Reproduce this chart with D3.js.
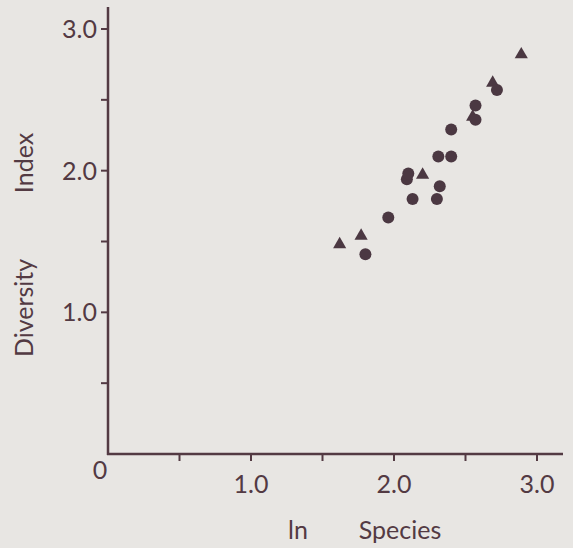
<!DOCTYPE html>
<html>
<head>
<meta charset="utf-8">
<script src="https://cdn.jsdelivr.net/npm/d3@7"></script>
<style>
  html, body { margin: 0; padding: 0; background: #e8e6e3; }
  svg { display: block; }
</style>
</head>
<body>
<div id="chart"></div>
<script>
// ln species (x) vs diversity index (y); two groups of samples
const triangleX = [1.62, 1.77, 2.20, 2.55, 2.69, 2.89];
const triangleY = [1.48, 1.54, 1.97, 2.38, 2.62, 2.82];
const circleX = [1.80, 1.96, 2.13, 2.30, 2.32, 2.09, 2.10, 2.31, 2.40, 2.40, 2.57, 2.57, 2.72];
const circleY = [1.41, 1.67, 1.80, 1.80, 1.89, 1.94, 1.98, 2.10, 2.10, 2.29, 2.36, 2.46, 2.57];

const xTicks = [1, 2, 3];
const xMinorTicks = [0.5, 1.5, 2.5];
const yTicks = [1, 2, 3];
const yMinorTicks = [0.5, 1.5, 2.5];

const width = 573, height = 548;
const ink = "#533a43";
const markColor = "#4b3842";
const font = "Lato, 'Noto Sans', sans-serif";

const x = d3.scaleLinear().domain([0, 3]).range([108, 537]);
const y = d3.scaleLinear().domain([0, 3]).range([454, 29]);

const svg = d3.select("#chart").append("svg")
    .attr("width", width)
    .attr("height", height)
    .style("font-family", font);

svg.append("rect")
    .attr("width", width)
    .attr("height", height)
    .attr("fill", "#e8e6e3");

// axes, drawn by hand so the lines run past the last tick like the original
const axes = svg.append("g")
    .attr("stroke", ink)
    .attr("stroke-width", 2.5)
    .attr("fill", "none");

axes.append("line")
    .attr("x1", x(0)).attr("x2", x(0))
    .attr("y1", 7).attr("y2", y(0) + 1);

axes.append("line")
    .attr("x1", x(0) - 1).attr("x2", 563)
    .attr("y1", y(0)).attr("y2", y(0));

axes.selectAll(".ytick")
    .data(yTicks.concat(yMinorTicks))
    .join("line")
    .attr("stroke-width", 2)
    .attr("x1", x(0) - 7).attr("x2", x(0))
    .attr("y1", d => y(d)).attr("y2", d => y(d));

axes.selectAll(".xtick")
    .data(xTicks.concat(xMinorTicks))
    .join("line")
    .attr("stroke-width", 2)
    .attr("x1", d => x(d)).attr("x2", d => x(d))
    .attr("y1", y(0)).attr("y2", y(0) + 7);

const labels = svg.append("g")
    .attr("fill", ink)
    .attr("font-size", 25);

labels.selectAll(".ylab")
    .data(yTicks)
    .join("text")
    .attr("x", x(0) - 11)
    .attr("y", d => y(d))
    .attr("dy", "0.36em")
    .attr("text-anchor", "end")
    .text(d => d3.format(".1f")(d));

labels.selectAll(".xlab")
    .data(xTicks)
    .join("text")
    .attr("x", d => x(d))
    .attr("y", 493)
    .attr("text-anchor", "middle")
    .text(d => d3.format(".1f")(d));

labels.append("text")
    .attr("x", 100)
    .attr("y", 479)
    .attr("text-anchor", "middle")
    .text("0");

// axis titles
labels.append("text")
    .attr("x", 298)
    .attr("y", 539)
    .attr("text-anchor", "middle")
    .text("ln");

labels.append("text")
    .attr("x", 400)
    .attr("y", 539)
    .attr("text-anchor", "middle")
    .text("Species");

labels.append("text")
    .attr("transform", "translate(33,308) rotate(-90)")
    .attr("text-anchor", "middle")
    .text("Diversity");

labels.append("text")
    .attr("transform", "translate(33,163) rotate(-90)")
    .attr("text-anchor", "middle")
    .text("Index");

// marks
const tri = d3.symbol().type(d3.symbolTriangle).size(75);

svg.append("g")
    .attr("fill", markColor)
    .selectAll("path")
    .data(d3.zip(triangleX, triangleY))
    .join("path")
    .attr("transform", ([a, b]) => `translate(${x(a)},${y(b)})`)
    .attr("d", tri);

svg.append("g")
    .attr("fill", markColor)
    .selectAll("circle")
    .data(d3.zip(circleX, circleY))
    .join("circle")
    .attr("cx", ([a]) => x(a))
    .attr("cy", ([, b]) => y(b))
    .attr("r", 6);
</script>
</body>
</html>
